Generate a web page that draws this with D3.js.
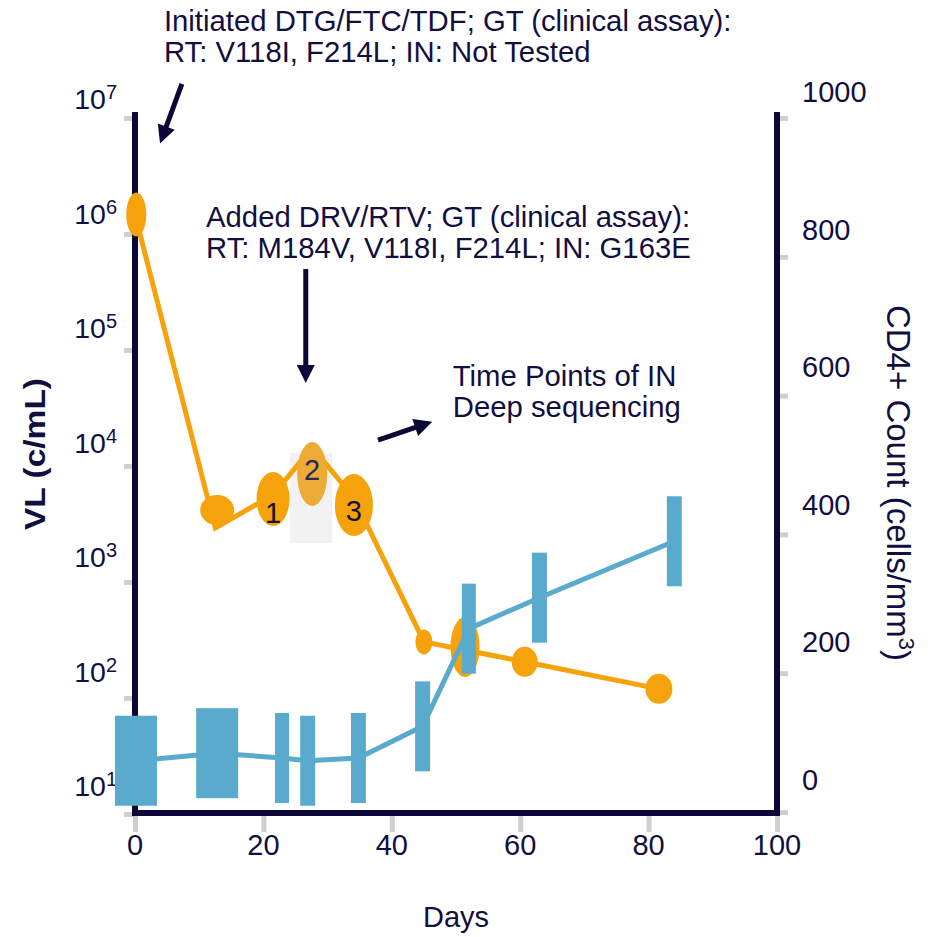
<!DOCTYPE html>
<html>
<head>
<meta charset="utf-8">
<script src="https://cdn.jsdelivr.net/npm/d3@7"></script>
<style>
  html, body { margin: 0; background: #fff; }
  svg { display: block; }
</style>
</head>
<body>
<div id="chart"></div>
<script>
// tick labels
const DAY_TICKS = [0, 20, 40, 60, 80, 100];
const VL_EXPONENTS = [1, 2, 3, 4, 5, 6, 7];
const CD4_TICKS = [0, 200, 400, 600, 800, 1000];

// viral load line (c/mL)
const VL_DAYS = [0, 12.5, 21.5, 27.6, 34.1, 45, 51.4, 60.7, 81.6];
const VL_VALUES = [1e6, 1830, 3550, 9300, 3350, 185, 157, 124, 72];

// viral load markers; 1-3 = time points of IN deep sequencing
const VL_MARK_DAYS = [0.2, 12.8, 21.5, 27.6, 34.1, 45, 51.4, 60.7, 81.6];
const VL_MARK_VALUES = [1e6, 2620, 3280, 5420, 2900, 185, 167, 124, 72];
const VL_MARK_TAGS = ["", "", "1", "2", "3", "", "", "", ""];

// CD4+ count (cells/mm3)
const CD4_DAYS = [0.15, 12.8, 22.9, 26.9, 34.8, 44.8, 52, 63, 84];
const CD4_VALUES = [28, 39, 32, 28, 32, 78, 220, 265, 347];

// shaded deep-sequencing window
const SEQ_DAYS = [24.1, 30.7];
const SEQ_VL = [1350, 8260];

// annotations (anchored in day / VL space)
const NOTES = [
  { day: 4.5, vl: 4.0e7, lines: ["Initiated DTG/FTC/TDF; GT (clinical assay):", "RT: V118I, F214L; IN: Not Tested"] },
  { day: 11.06, vl: 7.8e5, lines: ["Added DRV/RTV; GT (clinical assay):", "RT: M184V, V118I, F214L; IN: G163E"] },
  { day: 49.5, vl: 31800, lines: ["Time Points of IN", "Deep sequencing"] },
];
const ARROWS = [
  { from: [7.3, 1.38e7], to: [3.9, 4.17e6] },
  { from: [26.6, 3.34e5], to: [26.6, 3.37e4] },
  { from: [37.85, 1.07e4], to: [46.3, 1.55e4] },
];

(() => {
  const W = 934, H = 937;
  const NAVY = "#0b0838", INK = "#120e40", ORANGE = "#f5a20b", ORANGE_LT = "#ecaa36",
    BLUE = "#5aaacd", TICK = "#cfcfcf", SHADE = "#f2f2f2";
  const FONT = "'Liberation Sans', Arial, sans-serif";
  // marker sizes (style only)
  const MARK_RX = [10, 17, 16.5, 15, 19, 8.5, 14.5, 13, 13.5];
  const MARK_RY = [22, 15, 27, 32, 31, 12.5, 30, 15, 15];
  const CD4_W = [42, 42, 14, 15, 15, 15, 14, 15, 15];
  const CD4_H = 90;

  const svg = d3.select("#chart").append("svg")
    .attr("width", W).attr("height", H)
    .style("font-family", FONT);

  const x = d3.scaleLinear().domain([0, 100]).range([135, 777]);
  const yVL = d3.scaleLog().domain([1e1, 1e7]).range([787, 100]);      // labels + data
  const yVLtick = d3.scaleLog().domain([1e1, 1e7]).range([814, 118]);  // grey tick marks
  const yCD = d3.scaleLinear().domain([0, 1000]).range([780, 92]);
  const yCDtick = d3.scaleLinear().domain([0, 1000]).range([812, 118]);

  // grey tick marks
  const styleTicks = g => {
    g.select(".domain").remove();
    g.selectAll(".tick line").attr("stroke", TICK).attr("stroke-width", 5);
  };
  svg.append("g").attr("transform", `translate(${x(0)},0)`)
    .call(d3.axisLeft(yVLtick).tickValues(VL_EXPONENTS.map(e => 10 ** e)).tickSize(11).tickFormat(""))
    .call(styleTicks);
  svg.append("g").attr("transform", `translate(${x(100)},0)`)
    .call(d3.axisRight(yCDtick).tickValues(CD4_TICKS).tickSize(11).tickFormat(""))
    .call(styleTicks);
  svg.append("g").attr("transform", `translate(0,${yVLtick(10) - 1})`)
    .call(d3.axisBottom(x).tickValues(DAY_TICKS).tickSize(19).tickFormat(""))
    .call(styleTicks);

  // frame
  const top = yVLtick(1e7) - 6, bot = yVLtick(1e1) + 2, base = yVLtick(1e1) - 1;
  [[x(0), top, x(0), bot], [x(100), top, x(100), bot], [x(0) - 3, base, x(100) + 3, base]]
    .forEach(([x1, y1, x2, y2]) => svg.append("line")
      .attr("x1", x1).attr("y1", y1).attr("x2", x2).attr("y2", y2)
      .attr("stroke", NAVY).attr("stroke-width", 6));

  // tick labels
  const lab = svg.append("g").attr("fill", INK);
  VL_EXPONENTS.forEach(e => {
    const t = lab.append("text").attr("x", 117).attr("y", yVL(10 ** e) + 9)
      .attr("text-anchor", "end").attr("font-size", 28.5);
    t.append("tspan").text("10");
    t.append("tspan").attr("dy", -10).attr("font-size", 20).text(e);
  });
  CD4_TICKS.forEach(v => lab.append("text").attr("x", 802).attr("y", yCD(v) + 10)
    .attr("font-size", 29).text(v));
  DAY_TICKS.forEach(d => lab.append("text").attr("x", x(d)).attr("y", 855)
    .attr("text-anchor", "middle").attr("font-size", 29).text(d));

  // axis titles
  lab.append("text").attr("x", x(50)).attr("y", 927).attr("text-anchor", "middle")
    .attr("font-size", 29).text("Days");
  lab.append("text").attr("transform", "translate(45,454) rotate(-90)")
    .attr("text-anchor", "middle").attr("font-size", 29).attr("font-weight", "bold")
    .attr("textLength", 152).attr("lengthAdjust", "spacingAndGlyphs")
    .text("VL  (c/mL)");
  const rt = lab.append("text").attr("transform", "translate(887,483) rotate(90)")
    .attr("text-anchor", "middle").attr("font-size", 33);
  rt.append("tspan").text("CD4+ Count (cells/mm");
  rt.append("tspan").attr("dy", -12).attr("font-size", 22).text("3");
  rt.append("tspan").attr("dy", 12).text(")");

  // shaded window
  svg.append("rect")
    .attr("x", x(SEQ_DAYS[0])).attr("width", x(SEQ_DAYS[1]) - x(SEQ_DAYS[0]))
    .attr("y", yVL(SEQ_VL[1])).attr("height", yVL(SEQ_VL[0]) - yVL(SEQ_VL[1]))
    .attr("fill", SHADE);

  // viral load
  const vlPts = VL_DAYS.map((d, i) => [x(d), yVL(VL_VALUES[i])]);
  svg.append("path").attr("d", d3.line()(vlPts)).attr("fill", "none")
    .attr("stroke", ORANGE).attr("stroke-width", 5).attr("stroke-linejoin", "miter");
  VL_MARK_DAYS.forEach((d, i) => {
    svg.append("ellipse").attr("cx", x(d)).attr("cy", yVL(VL_MARK_VALUES[i]))
      .attr("rx", MARK_RX[i]).attr("ry", MARK_RY[i])
      .attr("fill", VL_MARK_TAGS[i] === "2" ? ORANGE_LT : ORANGE);
  });
  VL_MARK_DAYS.forEach((d, i) => {
    if (!VL_MARK_TAGS[i]) return;
    const dy = VL_MARK_TAGS[i] === "1" ? 24 : VL_MARK_TAGS[i] === "2" ? 6 : 16;
    svg.append("text").attr("x", x(d)).attr("y", yVL(VL_MARK_VALUES[i]) + dy)
      .attr("text-anchor", "middle").attr("font-size", 29)
      .attr("fill", VL_MARK_TAGS[i] === "2" ? "#2a2858" : "#15122e")
      .text(VL_MARK_TAGS[i]);
  });

  // CD4 count
  const cdPts = CD4_DAYS.map((d, i) => [x(d), yCD(CD4_VALUES[i])]);
  svg.append("path").attr("d", d3.line()(cdPts)).attr("fill", "none")
    .attr("stroke", BLUE).attr("stroke-width", 5);
  CD4_DAYS.forEach((d, i) => svg.append("rect")
    .attr("x", x(d) - CD4_W[i] / 2).attr("y", yCD(CD4_VALUES[i]) - CD4_H / 2)
    .attr("width", CD4_W[i]).attr("height", CD4_H).attr("fill", BLUE));

  // annotations
  NOTES.forEach(n => {
    const t = svg.append("text").attr("x", x(n.day)).attr("y", yVL(n.vl))
      .attr("font-size", 29.3).attr("fill", INK);
    n.lines.forEach((l, i) => t.append("tspan").attr("x", x(n.day)).attr("dy", i ? 31 : 0).text(l));
  });
  ARROWS.forEach(a => {
    const x1 = x(a.from[0]), y1 = yVL(a.from[1]), x2 = x(a.to[0]), y2 = yVL(a.to[1]);
    const len = Math.hypot(x2 - x1, y2 - y1), ux = (x2 - x1) / len, uy = (y2 - y1) / len;
    const hl = 18, hw = 9, bx = x2 - ux * hl, by = y2 - uy * hl;
    svg.append("line").attr("x1", x1).attr("y1", y1).attr("x2", bx + ux).attr("y2", by + uy)
      .attr("stroke", NAVY).attr("stroke-width", 5);
    svg.append("polygon")
      .attr("points", [[x2, y2], [bx - uy * hw, by + ux * hw], [bx + uy * hw, by - ux * hw]].join(" "))
      .attr("fill", NAVY);
  });
})();
</script>
</body>
</html>
